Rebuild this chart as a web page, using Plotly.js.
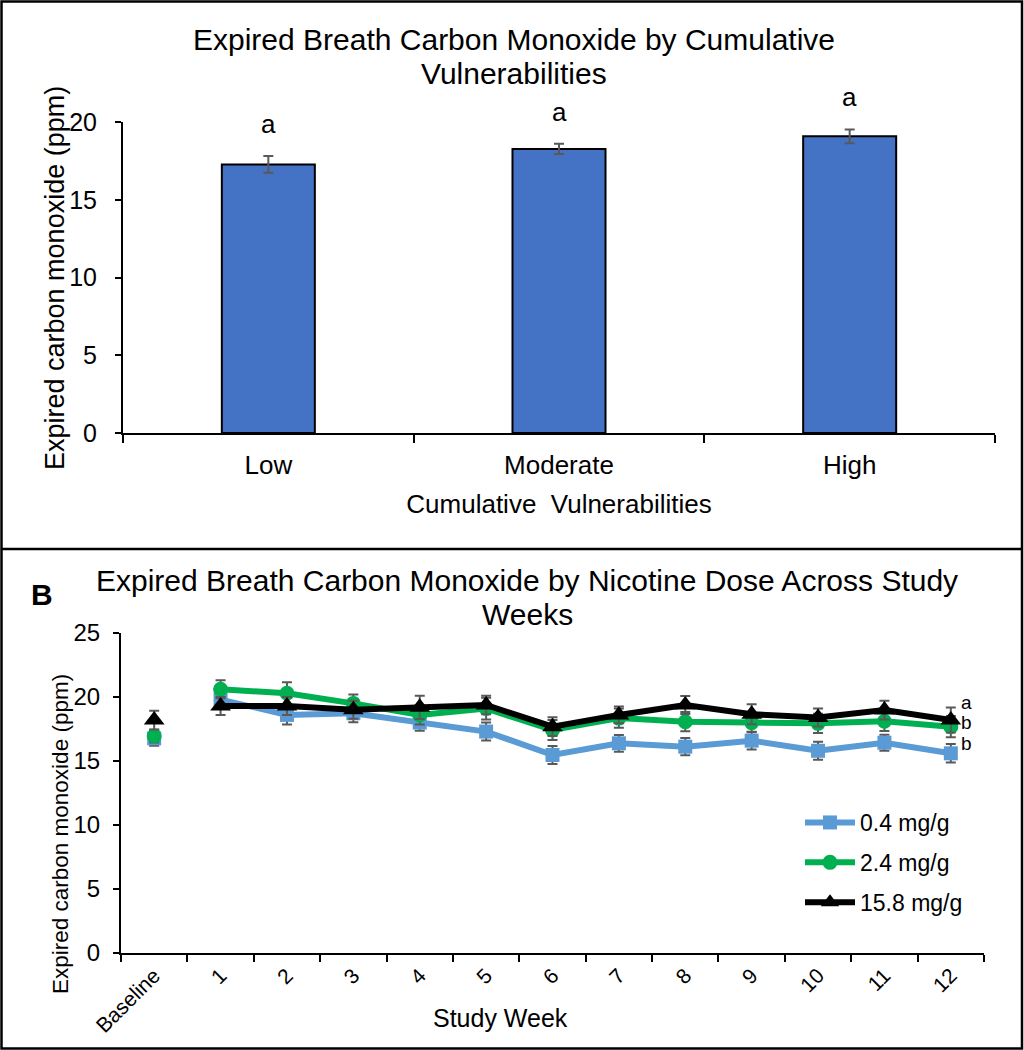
<!DOCTYPE html>
<html><head><meta charset="utf-8">
<script src="https://cdn.plot.ly/plotly-3.0.1.min.js"></script>
<style>html,body{margin:0;padding:0;background:#fff}</style>
</head><body>
<div id="chart" style="width:1024px;height:1050px"></div>
<script>
// ---- Panel A data ----
const vulnCategories = ['Low', 'Moderate', 'High'];
const vulnMeans = [17.27, 18.27, 19.08];
const vulnErrors = [0.54, 0.33, 0.44];
const vulnLetters = ['a', 'a', 'a'];

// ---- Panel B data ----
const weekLabels = ['Baseline', '1', '2', '3', '4', '5', '6', '7', '8', '9', '10', '11', '12'];
const doseNames = ['0.4 mg/g', '2.4 mg/g', '15.8 mg/g'];
const dose04 = [16.77, 19.8, 18.6, 18.73, 18.0, 17.3, 15.47, 16.38, 16.12, 16.59, 15.8, 16.43, 15.6];
const dose04Err = [0.57, 0.7, 0.74, 0.7, 0.63, 0.7, 0.7, 0.65, 0.67, 0.69, 0.7, 0.62, 0.72];
const dose24 = [16.95, 20.6, 20.29, 19.5, 18.6, 19.1, 17.42, 18.35, 18.07, 18.0, 17.94, 18.1, 17.68];
const dose24Err = [0.5, 0.7, 0.86, 0.7, 0.75, 0.85, 0.78, 0.75, 0.75, 0.75, 0.75, 0.75, 0.83];
const dose158 = [18.2, 19.3, 19.3, 19.0, 19.19, 19.375, 17.68, 18.6, 19.375, 18.65, 18.4, 18.98, 18.2];
const dose158Err = [0.73, 0.7, 0.7, 0.7, 0.91, 0.73, 0.73, 0.65, 0.7, 0.78, 0.7, 0.73, 0.97];
const doseLetters = ['b', 'b', 'a'];

const FONT = 'Liberation Sans, Arial, sans-serif';
const W = 1024, H = 1050;
const px = v => v / W;
const py = v => 1 - v / H;

const errStyle = {color: '#595959', thickness: 2, width: 5};

const traces = [];
traces.push({
  type: 'bar', x: vulnCategories, y: vulnMeans, xaxis: 'x', yaxis: 'y',
  width: 0.32, showlegend: false, hoverinfo: 'x+y',
  marker: {color: '#4472C4', line: {color: '#000000', width: 2}},
  error_y: Object.assign({type: 'data', array: vulnErrors, visible: true}, errStyle)
});

const series = [
  {name: doseNames[0], y: dose04, err: dose04Err, color: '#5B9BD5', symbol: 'square', size: 14},
  {name: doseNames[1], y: dose24, err: dose24Err, color: '#00B050', symbol: 'circle', size: 15},
  {name: doseNames[2], y: dose158, err: dose158Err, color: '#000000', symbol: 'triangle-up', size: 18}
];

series.forEach((s, i) => {
  traces.push({
    type: 'scatter', mode: 'lines+markers', name: s.name, legendgroup: 'g' + i,
    x: weekLabels.slice(1), y: s.y.slice(1), xaxis: 'x2', yaxis: 'y2',
    line: {color: s.color, width: 6},
    marker: {color: s.color, symbol: s.symbol, size: s.size},
    error_y: Object.assign({type: 'data', array: s.err.slice(1), visible: true}, errStyle),
    cliponaxis: false
  });
});
series.forEach((s, i) => {
  traces.push({
    type: 'scatter', mode: 'markers', name: s.name, legendgroup: 'g' + i, showlegend: false,
    x: weekLabels.slice(0, 1), y: s.y.slice(0, 1), xaxis: 'x2', yaxis: 'y2',
    marker: {color: s.color, symbol: s.symbol, size: s.size},
    error_y: Object.assign({type: 'data', array: s.err.slice(0, 1), visible: true}, errStyle),
    cliponaxis: false
  });
});

const annotations = [];
vulnCategories.forEach((c, i) => {
  annotations.push({
    xref: 'x', yref: 'y', x: c, y: vulnMeans[i] + vulnErrors[i], yshift: 32,
    text: vulnLetters[i], showarrow: false, yanchor: 'middle',
    font: {family: FONT, size: 26, color: '#000'}
  });
});
const letterShift = [10, 4, 18];
series.forEach((s, i) => {
  const last = s.y.length - 1;
  annotations.push({
    xref: 'x2', yref: 'y2', x: weekLabels[last], y: s.y[last], xshift: 16, yshift: letterShift[i],
    text: doseLetters[i], showarrow: false, yanchor: 'middle',
    font: {family: FONT, size: 19, color: '#000'}
  });
});
function textLine(text, x, y, size, extra) {
  annotations.push(Object.assign({
    xref: 'paper', yref: 'paper', x: px(x), y: py(y), xanchor: 'center', yanchor: 'middle',
    text: text, showarrow: false, font: {family: FONT, size: size, color: '#000'}
  }, extra || {}));
}
textLine('Expired Breath Carbon Monoxide by Cumulative', 514, 39, 30);
textLine('Vulnerabilities', 514, 73, 30);
textLine('Expired Breath Carbon Monoxide by Nicotine Dose Across Study', 527, 580, 30);
textLine('Weeks', 527, 614, 30);
textLine('<b>B</b>', 42, 594, 30);
textLine('Study Week', 500, 1018, 25);
textLine('Expired carbon monoxide (ppm)', 60, 834, 22.5, {textangle: -90});
textLine('Expired carbon monoxide (ppm)', 55, 278, 27, {textangle: -90});

const axisCommon = {
  showline: true, linecolor: '#000', linewidth: 2, ticks: 'outside', tickcolor: '#000',
  tickwidth: 2, showgrid: false, zeroline: false, fixedrange: true
};

const layout = {
  width: W, height: H, margin: {l: 0, r: 0, t: 0, b: 0},
  paper_bgcolor: '#fff', plot_bgcolor: '#fff',
  font: {family: FONT, color: '#000'},
  showlegend: true,
  legend: {
    x: px(800), y: py(801), xanchor: 'left', yanchor: 'top', itemwidth: 50,
    font: {family: FONT, size: 23, color: '#000'}, tracegroupgap: 7, traceorder: 'grouped',
    bgcolor: 'rgba(0,0,0,0)'
  },
  xaxis: Object.assign({}, axisCommon, {
    domain: [px(123), px(995)], anchor: 'y', type: 'category', tickson: 'boundaries',
    ticklen: 8, tickfont: {family: FONT, size: 26}, ticklabelstandoff: 8,
    title: {text: 'Cumulative  Vulnerabilities', font: {family: FONT, size: 26}, standoff: 16}
  }),
  yaxis: Object.assign({}, axisCommon, {
    domain: [py(433), py(122)], anchor: 'x', range: [0, 20], dtick: 5, ticklen: 6,
    tickfont: {family: FONT, size: 25}, ticklabelstandoff: 13
  }),
  xaxis2: Object.assign({}, axisCommon, {
    domain: [px(121), px(984)], anchor: 'y2', type: 'category', tickson: 'boundaries',
    categoryorder: 'array', categoryarray: weekLabels, range: [-0.5, weekLabels.length - 0.5],
    ticklen: 7, tickangle: -45, tickfont: {family: FONT, size: 21}
  }),
  yaxis2: Object.assign({}, axisCommon, {
    domain: [py(953), py(633)], anchor: 'x2', range: [0, 25], dtick: 5, ticklen: 6,
    tickfont: {family: FONT, size: 24}, ticklabelstandoff: 8
  }),
  annotations: annotations,
  shapes: [
    {type: 'rect', xref: 'paper', yref: 'paper', x0: px(1.5), x1: px(1022), y0: py(1.5), y1: py(1048.5),
     line: {color: '#000', width: 2.5}},
    {type: 'line', xref: 'paper', yref: 'paper', x0: px(1.5), x1: px(1022), y0: py(549), y1: py(549),
     line: {color: '#000', width: 2.5}}
  ]
};

Plotly.newPlot('chart', traces, layout, {displayModeBar: false, staticPlot: true});
</script>
</body></html>
